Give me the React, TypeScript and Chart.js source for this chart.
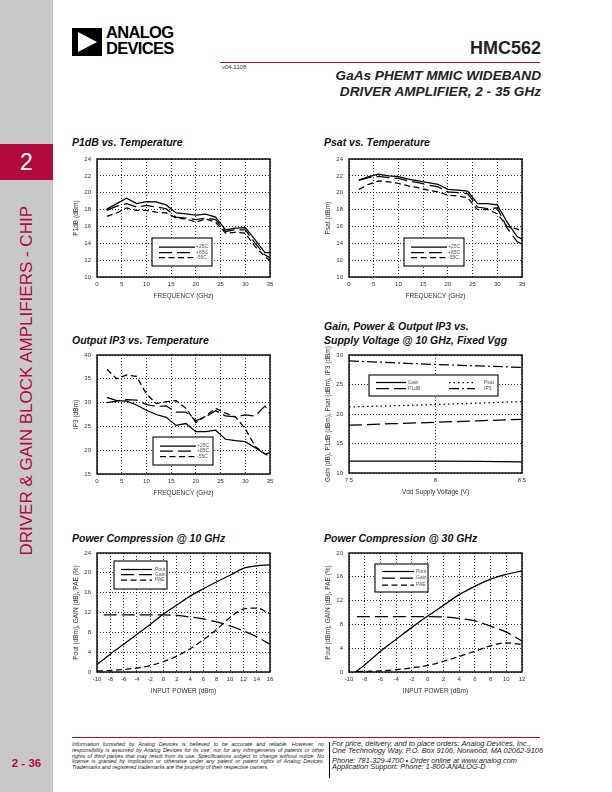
import React, { useEffect, useRef } from "react";
import { Chart, registerables } from "chart.js";

Chart.register(...registerables);

// ---------- DATA ----------
const FREQ = [2, 4, 6, 8, 10, 12, 14, 16, 18, 20, 22, 24, 26, 28, 30, 32, 34, 35];

const P1DB_25C = [18.05, 18.7, 19.35, 18.7, 18.95, 18.9, 18.55, 17.6, 17.5, 17.35, 17.45, 17.1, 15.6, 15.8, 15.85, 14.4, 12.9, 12.9];
const P1DB_85C = [17.9, 18.4, 18.7, 18.3, 18.5, 18.3, 18.1, 17.1, 17.0, 16.8, 17.0, 16.8, 15.4, 15.6, 15.6, 14.0, 12.6, 12.3];
const P1DB_M55C = [17.2, 17.6, 18.2, 17.9, 17.9, 17.7, 17.6, 17.0, 16.9, 16.5, 16.9, 16.5, 15.2, 15.3, 15.2, 13.6, 12.4, 12.0];

const PSAT_25C = [21.5, 21.9, 22.2, 22.0, 21.9, 21.6, 21.4, 21.2, 21.0, 20.4, 20.3, 20.2, 18.7, 18.7, 18.55, 16.5, 14.8, 14.5];
const PSAT_85C = [21.5, 21.8, 21.95, 21.8, 21.7, 21.4, 21.2, 20.9, 20.7, 20.1, 20.0, 19.9, 18.3, 18.1, 18.2, 15.8, 14.2, 13.9];
const PSAT_M55C = [20.4, 21.0, 21.4, 21.3, 21.1, 20.8, 20.6, 20.3, 20.1, 19.7, 19.6, 19.4, 18.0, 18.0, 17.5, 16.0, 15.7, 15.4];

const OIP3_25C = [31.1, 30.4, 30.3, 29.5, 28.4, 27.5, 26.9, 25.2, 25.6, 23.9, 23.9, 24.2, 22.3, 22.0, 21.8, 20.5, 19.2, 19.5];
const OIP3_85C = [30.0, 30.3, 30.6, 30.5, 29.6, 29.2, 29.3, 28.0, 28.0, 26.2, 27.0, 28.3, 27.2, 27.0, 27.4, 27.2, 29.3, 27.6];
const OIP3_M55C = [37.0, 35.0, 35.8, 35.5, 31.8, 29.8, 30.2, 30.4, 28.8, 25.8, 27.2, 28.8, 27.8, 27.0, 24.5, 20.8, 19.2, 18.7];

const VDD = [7.5, 7.75, 8, 8.25, 8.5];
const VDD_GAIN = [12.0, 12.0, 12.0, 11.95, 11.9];
const VDD_P1DB = [18.1, 18.35, 18.6, 18.85, 19.1];
const VDD_PSAT = [21.2, 21.4, 21.6, 21.85, 22.1];
const VDD_IP3 = [29.0, 28.7, 28.4, 28.15, 27.9];

const PIN10 = [-10, -8, -6, -4, -2, 0, 2, 4, 6, 8, 10, 12, 14, 16];
const PIN10_GAIN = [-9, -8, -6, -4, -2, 0, 2, 4, 6, 8, 10, 12, 14, 16];
const PC10_POUT = [1.5, 3.6, 5.6, 7.6, 9.6, 11.7, 13.5, 15.3, 16.8, 18.2, 19.5, 20.9, 21.4, 21.6];
const PC10_GAIN = [11.5, 11.5, 11.5, 11.5, 11.5, 11.5, 11.4, 11.1, 10.7, 10.1, 9.3, 8.3, 7.1, 5.6];
const PC10_PAE = [0.2, 0.3, 0.5, 0.8, 1.3, 2.1, 3.2, 4.7, 6.5, 8.6, 11.0, 12.7, 12.9, 11.7];

const PIN30_POUT = [-9.2, -8, -6, -4, -2, 0, 2, 4, 6, 8, 10, 12];
const PIN30 = [-9, -8, -6, -4, -2, 0, 2, 4, 6, 8, 10, 12];
const PC30_POUT = [0, 1.2, 3.5, 5.5, 7.5, 9.4, 11.2, 13.0, 14.4, 15.6, 16.4, 17.0];
const PC30_GAIN = [9.3, 9.3, 9.3, 9.3, 9.3, 9.3, 9.25, 9.0, 8.6, 7.7, 6.7, 5.2];
const PC30_PAE = [0.05, 0.1, 0.2, 0.4, 0.7, 1.1, 1.8, 2.6, 3.5, 4.4, 4.9, 4.6];

const TEMP_LABELS = ["+25C", "+85C", "-55C"];
const VDD_LABELS = ["Gain", "P1dB", "Psat", "IP3"];
const PC_LABELS = ["Pout", "Gain", "PAE"];

// ---------- STYLE ----------
const FONT = '"Liberation Sans", Arial, Helvetica, sans-serif';
const RED = "#b20a3d";
const SOLID: number[] = [];
const LONG_DASH = [13, 5];
const SHORT_DASH = [6, 3.5];
const DOTTED = [1.5, 3];
const DASH_DOT = [10, 3, 2, 3];

type Ser = { label: string; xs: number[]; ys: number[]; dash: number[] };
type LegItem = { lx0: number; lx1: number; ly: number; tx: number };
type Spec = {
  left: number; top: number; w: number; h: number;
  xMin: number; xMax: number; xStep: number;
  yMin: number; yMax: number; yStep: number;
  xTitle: string; yTitle: string;
  series: Ser[];
  smooth?: boolean;
  legendBox: [number, number, number, number];
  legendItems: LegItem[];
};

const framePlugin = {
  id: "frameLegend",
  afterDraw(chart: any, _args: any, opts: any) {
    const { ctx, chartArea: a } = chart;
    ctx.save();
    ctx.setLineDash([]);
    ctx.strokeStyle = "#000";
    ctx.lineWidth = 1.4;
    ctx.strokeRect(a.left, a.top, a.right - a.left, a.bottom - a.top);
    const box = opts.box as [number, number, number, number];
    const items = opts.items as LegItem[];
    if (box) {
      const [x0, y0, x1, y1] = box;
      ctx.fillStyle = "#fff";
      ctx.fillRect(a.left + x0, a.top + y0, x1 - x0, y1 - y0);
      ctx.lineWidth = 1.1;
      ctx.strokeRect(a.left + x0, a.top + y0, x1 - x0, y1 - y0);
      chart.data.datasets.forEach((ds: any, i: number) => {
        const it = items[i];
        if (!it) return;
        ctx.strokeStyle = "#000";
        ctx.setLineDash(ds.borderDash || []);
        ctx.lineWidth = ds.borderWidth;
        ctx.beginPath();
        ctx.moveTo(a.left + it.lx0, a.top + it.ly);
        ctx.lineTo(a.left + it.lx1, a.top + it.ly);
        ctx.stroke();
        ctx.setLineDash([]);
        ctx.fillStyle = "#555";
        ctx.font = `5px ${FONT}`;
        ctx.textBaseline = "middle";
        ctx.textAlign = "left";
        ctx.fillText(ds.label, a.left + it.tx, a.top + it.ly);
      });
    }
    ctx.restore();
  },
};

const PAD_L = 30;
const PAD_T = 10;
const PAD_R = 9;
const PAD_B = 28;

function PlotChart({ spec }: { spec: Spec }) {
  const ref = useRef<HTMLCanvasElement>(null);
  const cw = spec.w + PAD_L + PAD_R;
  const ch = spec.h + PAD_T + PAD_B;
  useEffect(() => {
    if (!ref.current) return;
    const tickFont = { family: FONT, size: 6 };
    const titleFont = { family: FONT, size: 6.5 };
    const fmt = (v: any) => String(Number(v));
    const chart = new Chart(ref.current, {
      type: "line",
      data: {
        datasets: spec.series.map((s) => ({
          label: s.label,
          data: s.xs.map((x, i) => ({ x, y: s.ys[i] })),
          borderColor: "#000",
          borderWidth: 1.25,
          borderDash: s.dash,
          pointRadius: 0,
          fill: false,
          tension: 0,
          cubicInterpolationMode: spec.smooth ? "monotone" : "default",
        })),
      },
      options: {
        animation: false,
        responsive: false,
        devicePixelRatio: 1,
        layout: { padding: { left: 0, top: PAD_T, right: PAD_R, bottom: 0 } },
        plugins: {
          legend: { display: false },
          tooltip: { enabled: false },
          frameLegend: { box: spec.legendBox, items: spec.legendItems },
        } as any,
        scales: {
          x: {
            type: "linear",
            min: spec.xMin,
            max: spec.xMax,
            afterFit: (s: any) => { s.height = PAD_B; },
            ticks: { stepSize: spec.xStep, font: tickFont, color: "#333", padding: 4, maxRotation: 0, autoSkip: false, callback: fmt },
            grid: { color: "#000", lineWidth: 0.8, drawTicks: false },
            border: { display: false, dash: [1, 2] },
            title: { display: true, text: spec.xTitle, font: titleFont, color: "#333", padding: { top: 0, bottom: 5 } },
          },
          y: {
            type: "linear",
            min: spec.yMin,
            max: spec.yMax,
            afterFit: (s: any) => { s.width = PAD_L; },
            ticks: { stepSize: spec.yStep, font: tickFont, color: "#333", padding: 6, autoSkip: false, callback: fmt },
            grid: { color: "#000", lineWidth: 0.8, drawTicks: false },
            border: { display: false, dash: [1, 2] },
            title: { display: true, text: spec.yTitle, font: titleFont, color: "#333", padding: { top: 5, bottom: 0 } },
          },
        },
      } as any,
      plugins: [framePlugin],
    });
    return () => chart.destroy();
  }, []);
  return (
    <canvas
      ref={ref}
      width={cw}
      height={ch}
      style={{ position: "absolute", left: spec.left - PAD_L, top: spec.top - PAD_T, width: cw, height: ch }}
    />
  );
}

const tempLegend: LegItem[] = [
  { lx0: 62, lx1: 98, ly: 88, tx: 99 },
  { lx0: 62, lx1: 98, ly: 93.5, tx: 99 },
  { lx0: 62, lx1: 98, ly: 98.5, tx: 99 },
];

const specs: Spec[] = [
  {
    left: 97, top: 159, w: 173, h: 118,
    xMin: 0, xMax: 35, xStep: 5, yMin: 10, yMax: 24, yStep: 2,
    xTitle: "FREQUENCY (GHz)", yTitle: "P1dB (dBm)",
    series: [
      { label: TEMP_LABELS[0], xs: FREQ, ys: P1DB_25C, dash: SOLID },
      { label: TEMP_LABELS[1], xs: FREQ, ys: P1DB_85C, dash: LONG_DASH },
      { label: TEMP_LABELS[2], xs: FREQ, ys: P1DB_M55C, dash: SHORT_DASH },
    ],
    legendBox: [55, 79, 115, 107],
    legendItems: tempLegend,
  },
  {
    left: 349, top: 159, w: 173, h: 118,
    xMin: 0, xMax: 35, xStep: 5, yMin: 10, yMax: 24, yStep: 2,
    xTitle: "FREQUENCY (GHz)", yTitle: "Psat (dBm)",
    series: [
      { label: TEMP_LABELS[0], xs: FREQ, ys: PSAT_25C, dash: SOLID },
      { label: TEMP_LABELS[1], xs: FREQ, ys: PSAT_85C, dash: LONG_DASH },
      { label: TEMP_LABELS[2], xs: FREQ, ys: PSAT_M55C, dash: SHORT_DASH },
    ],
    legendBox: [55, 79, 115, 107],
    legendItems: tempLegend,
  },
  {
    left: 97, top: 355, w: 173, h: 119,
    xMin: 0, xMax: 35, xStep: 5, yMin: 15, yMax: 40, yStep: 5,
    xTitle: "FREQUENCY (GHz)", yTitle: "IP3 (dBm)",
    series: [
      { label: TEMP_LABELS[0], xs: FREQ, ys: OIP3_25C, dash: SOLID },
      { label: TEMP_LABELS[1], xs: FREQ, ys: OIP3_85C, dash: LONG_DASH },
      { label: TEMP_LABELS[2], xs: FREQ, ys: OIP3_M55C, dash: SHORT_DASH },
    ],
    legendBox: [56, 82, 116, 110],
    legendItems: [
      { lx0: 63, lx1: 99, ly: 91, tx: 100 },
      { lx0: 63, lx1: 99, ly: 96, tx: 100 },
      { lx0: 63, lx1: 99, ly: 101.5, tx: 100 },
    ],
  },
  {
    left: 349, top: 355, w: 173, h: 118,
    xMin: 7.5, xMax: 8.5, xStep: 0.5, yMin: 10, yMax: 30, yStep: 5,
    xTitle: "Vdd Supply Voltage (V)", yTitle: "Gain (dB), P1dB (dBm), Psat (dBm), IP3 (dBm)",
    series: [
      { label: VDD_LABELS[0], xs: VDD, ys: VDD_GAIN, dash: SOLID },
      { label: VDD_LABELS[1], xs: VDD, ys: VDD_P1DB, dash: LONG_DASH },
      { label: VDD_LABELS[2], xs: VDD, ys: VDD_PSAT, dash: DOTTED },
      { label: VDD_LABELS[3], xs: VDD, ys: VDD_IP3, dash: DASH_DOT },
    ],
    legendBox: [20, 20, 149, 41],
    legendItems: [
      { lx0: 27, lx1: 57, ly: 27.5, tx: 59 },
      { lx0: 27, lx1: 57, ly: 33.5, tx: 59 },
      { lx0: 100, lx1: 126, ly: 27.5, tx: 135 },
      { lx0: 100, lx1: 126, ly: 33.5, tx: 135 },
    ],
  },
  {
    left: 97, top: 553, w: 173, h: 119,
    xMin: -10, xMax: 16, xStep: 2, yMin: 0, yMax: 24, yStep: 4,
    xTitle: "INPUT POWER (dBm)", yTitle: "Pout (dBm), GAIN (dB), PAE (%)",
    smooth: true,
    series: [
      { label: PC_LABELS[0], xs: PIN10, ys: PC10_POUT, dash: SOLID },
      { label: PC_LABELS[1], xs: PIN10_GAIN, ys: PC10_GAIN, dash: LONG_DASH },
      { label: PC_LABELS[2], xs: PIN10, ys: PC10_PAE, dash: SHORT_DASH },
    ],
    legendBox: [17, 8, 70, 36],
    legendItems: [
      { lx0: 24, lx1: 55, ly: 16.5, tx: 58 },
      { lx0: 24, lx1: 55, ly: 21.5, tx: 58 },
      { lx0: 24, lx1: 55, ly: 27, tx: 58 },
    ],
  },
  {
    left: 349, top: 553, w: 173, h: 119,
    xMin: -10, xMax: 12, xStep: 2, yMin: 0, yMax: 20, yStep: 4,
    xTitle: "INPUT POWER (dBm)", yTitle: "Pout (dBm), GAIN (dB), PAE (%)",
    smooth: true,
    series: [
      { label: PC_LABELS[0], xs: PIN30_POUT, ys: PC30_POUT, dash: SOLID },
      { label: PC_LABELS[1], xs: PIN30, ys: PC30_GAIN, dash: LONG_DASH },
      { label: PC_LABELS[2], xs: PIN30, ys: PC30_PAE, dash: SHORT_DASH },
    ],
    legendBox: [26, 11, 79, 39],
    legendItems: [
      { lx0: 33, lx1: 65, ly: 18.5, tx: 67 },
      { lx0: 33, lx1: 65, ly: 25, tx: 67 },
      { lx0: 33, lx1: 65, ly: 32, tx: 67 },
    ],
  },
];

const chartTitleStyle: React.CSSProperties = {
  position: "absolute",
  fontFamily: FONT,
  fontWeight: "bold",
  fontStyle: "italic",
  fontSize: 10.5,
  lineHeight: "14px",
  color: "#111",
  whiteSpace: "nowrap",
};

export default function App() {
  return (
    <div style={{ position: "absolute", left: 0, top: 0, width: 612, height: 792, background: "#fff", fontFamily: FONT, overflow: "hidden" }}>
      {/* sidebar */}
      <div style={{ position: "absolute", left: 0, top: 0, width: 53, height: 792, background: "#c8c8ca" }} />
      <div style={{ position: "absolute", left: 0, top: 144, width: 53, height: 36, background: RED, color: "#fff", fontSize: 23, lineHeight: "36px", textAlign: "center" }}>2</div>
      <div style={{ position: "absolute", left: 0, top: 196, width: 53, height: 370, display: "flex", alignItems: "center", justifyContent: "center" }}>
        <div style={{ writingMode: "vertical-rl", transform: "rotate(180deg)", color: RED, fontSize: 17, whiteSpace: "nowrap" }}>
          DRIVER &amp; GAIN BLOCK AMPLIFIERS - CHIP
        </div>
      </div>
      <div style={{ position: "absolute", left: 0, top: 757, width: 53, textAlign: "center", color: RED, fontWeight: "bold", fontSize: 11.5 }}>2 - 36</div>

      {/* header */}
      <svg style={{ position: "absolute", left: 72, top: 28 }} width={30} height={28}>
        <rect x={0} y={0} width={30} height={28} fill="#000" />
        <polygon points="6,4 25,14 6,24" fill="#fff" />
      </svg>
      <div style={{ position: "absolute", left: 106, top: 25, fontWeight: "bold", fontSize: 16.5, lineHeight: "15.5px", letterSpacing: -0.7, color: "#000" }}>
        ANALOG<br />DEVICES
      </div>
      <div style={{ position: "absolute", right: 612 - 541, top: 38, fontWeight: "bold", fontSize: 18, color: "#222" }}>HMC562</div>
      <div style={{ position: "absolute", left: 220, top: 62, width: 320, height: 1, background: RED }} />
      <div style={{ position: "absolute", left: 222, top: 64, fontSize: 6, color: "#333" }}>v04.1108</div>
      <div style={{ position: "absolute", right: 612 - 541, top: 68, textAlign: "right", fontWeight: "bold", fontStyle: "italic", fontSize: 13.6, lineHeight: "16px", color: "#222" }}>
        GaAs PHEMT MMIC WIDEBAND<br />DRIVER AMPLIFIER, 2 - 35 GHz
      </div>

      {/* chart titles */}
      <div style={{ ...chartTitleStyle, left: 72, top: 135 }}>P1dB vs. Temperature</div>
      <div style={{ ...chartTitleStyle, left: 324, top: 135 }}>Psat vs. Temperature</div>
      <div style={{ ...chartTitleStyle, left: 72, top: 333 }}>Output IP3 vs. Temperature</div>
      <div style={{ ...chartTitleStyle, left: 324, top: 319 }}>Gain, Power &amp; Output IP3 vs.<br />Supply Voltage @ 10 GHz, Fixed Vgg</div>
      <div style={{ ...chartTitleStyle, left: 72, top: 531 }}>Power Compression @ 10 GHz</div>
      <div style={{ ...chartTitleStyle, left: 324, top: 531 }}>Power Compression @ 30 GHz</div>

      {specs.map((s, i) => (
        <PlotChart key={i} spec={s} />
      ))}

      {/* footer */}
      <div style={{ position: "absolute", left: 72, top: 737, width: 468, height: 1, background: RED }} />
      <div style={{ position: "absolute", left: 72, top: 742, width: 252, fontSize: 5.4, lineHeight: "5.8px", fontStyle: "italic", color: "#222", textAlign: "justify" }}>
        Information furnished by Analog Devices is believed to be accurate and reliable. However, no responsibility is assumed by Analog Devices for its use, nor for any infringements of patents or other rights of third parties that may result from its use. Specifications subject to change without notice. No license is granted by implication or otherwise under any patent or patent rights of Analog Devices. Trademarks and registered trademarks are the property of their respective owners.
      </div>
      <div style={{ position: "absolute", left: 329, top: 742, width: 1, height: 36, background: "#000" }} />
      <div style={{ position: "absolute", left: 332, top: 741, width: 212, fontSize: 7.4, lineHeight: "6.8px", fontStyle: "italic", color: "#222", whiteSpace: "nowrap" }}>
        For price, delivery, and to place orders: Analog Devices, Inc.,<br />
        One Technology Way, P.O. Box 9106, Norwood, MA 02062-9106<br />
        <span style={{ display: "block", height: 3 }} />
        Phone: 781-329-4700 • Order online at www.analog.com<br />
        Application Support: Phone: 1-800-ANALOG-D
      </div>
    </div>
  );
}
